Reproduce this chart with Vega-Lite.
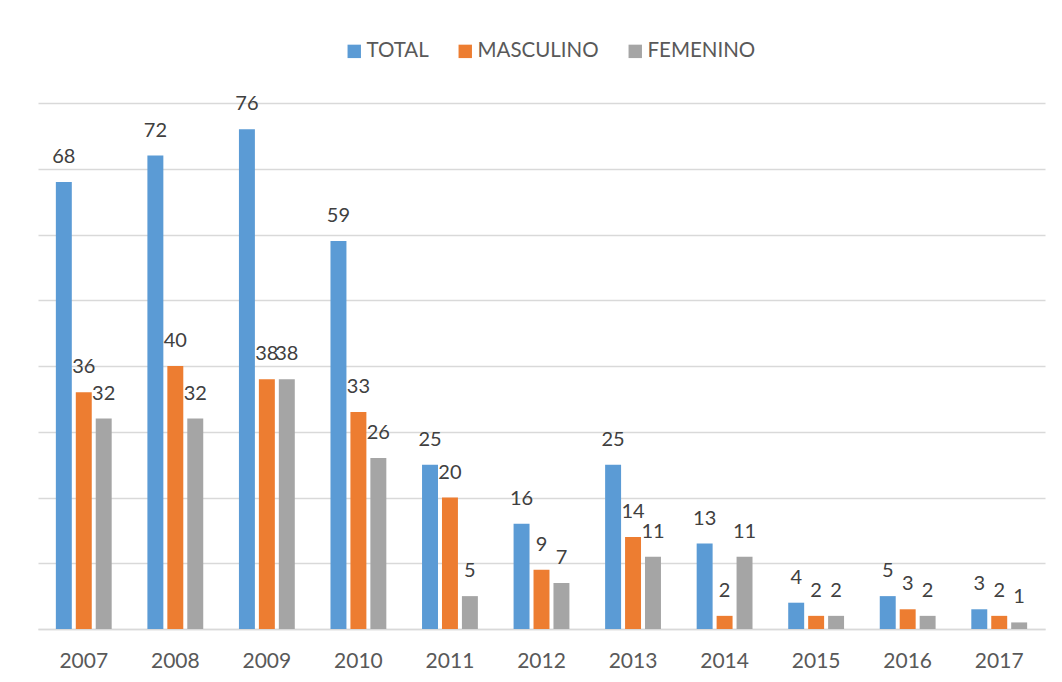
{
  "$schema": "https://vega.github.io/schema/vega-lite/v6.json",
  "autosize": "none",
  "width": 1007,
  "height": 526,
  "padding": {"left": 38, "top": 103, "right": 17, "bottom": 53},
  "background": "white",
  "config": {
    "view": {"stroke": null},
    "font": "Lato"
  },
  "data": {
    "values": [
      {"anio": "2007", "serie": "TOTAL", "valor": 68},
      {"anio": "2007", "serie": "MASCULINO", "valor": 36},
      {"anio": "2007", "serie": "FEMENINO", "valor": 32},
      {"anio": "2008", "serie": "TOTAL", "valor": 72},
      {"anio": "2008", "serie": "MASCULINO", "valor": 40},
      {"anio": "2008", "serie": "FEMENINO", "valor": 32},
      {"anio": "2009", "serie": "TOTAL", "valor": 76},
      {"anio": "2009", "serie": "MASCULINO", "valor": 38},
      {"anio": "2009", "serie": "FEMENINO", "valor": 38},
      {"anio": "2010", "serie": "TOTAL", "valor": 59},
      {"anio": "2010", "serie": "MASCULINO", "valor": 33},
      {"anio": "2010", "serie": "FEMENINO", "valor": 26},
      {"anio": "2011", "serie": "TOTAL", "valor": 25},
      {"anio": "2011", "serie": "MASCULINO", "valor": 20},
      {"anio": "2011", "serie": "FEMENINO", "valor": 5},
      {"anio": "2012", "serie": "TOTAL", "valor": 16},
      {"anio": "2012", "serie": "MASCULINO", "valor": 9},
      {"anio": "2012", "serie": "FEMENINO", "valor": 7},
      {"anio": "2013", "serie": "TOTAL", "valor": 25},
      {"anio": "2013", "serie": "MASCULINO", "valor": 14},
      {"anio": "2013", "serie": "FEMENINO", "valor": 11},
      {"anio": "2014", "serie": "TOTAL", "valor": 13},
      {"anio": "2014", "serie": "MASCULINO", "valor": 2},
      {"anio": "2014", "serie": "FEMENINO", "valor": 11},
      {"anio": "2015", "serie": "TOTAL", "valor": 4},
      {"anio": "2015", "serie": "MASCULINO", "valor": 2},
      {"anio": "2015", "serie": "FEMENINO", "valor": 2},
      {"anio": "2016", "serie": "TOTAL", "valor": 5},
      {"anio": "2016", "serie": "MASCULINO", "valor": 3},
      {"anio": "2016", "serie": "FEMENINO", "valor": 2},
      {"anio": "2017", "serie": "TOTAL", "valor": 3},
      {"anio": "2017", "serie": "MASCULINO", "valor": 2},
      {"anio": "2017", "serie": "FEMENINO", "valor": 1}
    ]
  },
  "encoding": {
    "x": {
      "field": "anio",
      "type": "nominal",
      "title": null,
      "scale": {"paddingInner": 0.39, "paddingOuter": 0.195},
      "axis": {
        "labelAngle": 0,
        "labelFontSize": 21,
        "labelColor": "#595959",
        "labelPadding": 21,
        "ticks": false,
        "domainColor": "#D9D9D9",
        "domainWidth": 1.5,
        "grid": false
      }
    },
    "xOffset": {
      "field": "serie",
      "type": "nominal",
      "sort": ["TOTAL", "MASCULINO", "FEMENINO"],
      "scale": {"paddingInner": 0.2, "paddingOuter": 0}
    },
    "y": {
      "field": "valor",
      "type": "quantitative",
      "title": null,
      "scale": {"domain": [0, 80], "nice": false},
      "axis": {
        "values": [0, 10, 20, 30, 40, 50, 60, 70, 80],
        "labels": false,
        "ticks": false,
        "domain": false,
        "gridColor": "#D9D9D9",
        "gridWidth": 1.5
      }
    }
  },
  "layer": [
    {
      "mark": {"type": "bar"},
      "encoding": {
        "color": {
          "field": "serie",
          "type": "nominal",
          "sort": ["TOTAL", "MASCULINO", "FEMENINO"],
          "scale": {
            "domain": ["TOTAL", "MASCULINO", "FEMENINO"],
            "range": ["#5B9BD5", "#ED7D31", "#A5A5A5"]
          },
          "legend": {
            "title": null,
            "orient": "none",
            "direction": "horizontal",
            "legendX": 306,
            "legendY": -62,
            "padding": 0,
            "symbolType": "square",
            "symbolSize": 180,
            "symbolStrokeWidth": 0,
            "labelFontSize": 20.5,
            "labelColor": "#595959",
            "labelOffset": 2,
            "columnPadding": 26
          }
        }
      }
    },
    {
      "mark": {
        "type": "text",
        "baseline": "alphabetic",
        "align": "center",
        "dy": -19,
        "fontSize": 20,
        "color": "#404040"
      },
      "encoding": {
        "text": {"field": "valor", "type": "quantitative"}
      }
    }
  ]
}
